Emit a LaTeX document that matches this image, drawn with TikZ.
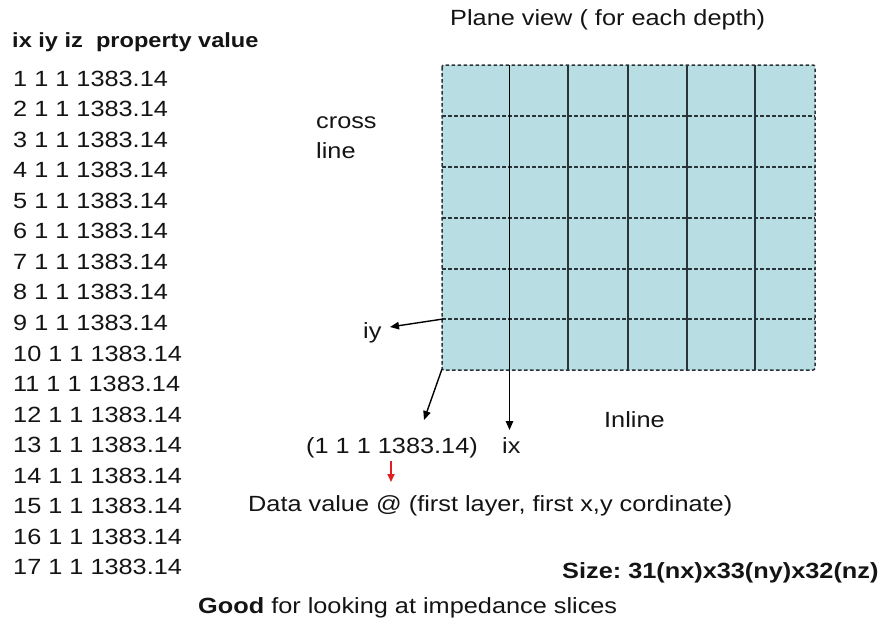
\documentclass[tikz,border=0pt]{standalone}
\usepackage{fontspec}
\setmainfont[FakeStretch=1.15]{Liberation Sans}
\usetikzlibrary{arrows.meta}
\definecolor{gridfill}{RGB}{184,222,227}
\definecolor{gridline}{RGB}{40,52,58}
\definecolor{txtcol}{RGB}{20,20,20}
\definecolor{redarrow}{RGB}{225,30,35}
\tikzset{
  txt/.style={inner sep=0pt, anchor=base west, text=txtcol, font=\fontsize{22}{26}\selectfont},
  boldtxt/.style={txt, font=\fontsize{22}{26}\selectfont\bfseries},
  hdrtxt/.style={txt, font=\fontsize{20.5}{24}\selectfont\bfseries},
  dashln/.style={draw=gridline, line width=1.5pt, dash pattern=on 3.6pt off 2.4pt},
  solidln/.style={draw=gridline, line width=1.5pt},
  arr/.style={draw=black, line width=1.4pt, -{Triangle[length=9pt,width=7.5pt]}},
  redarr/.style={draw=redarrow, line width=1.8pt, -{Triangle[length=8pt,width=7pt]}}
}
\frenchspacing
\begin{document}
\begin{tikzpicture}[x=1pt,y=-1pt]
\useasboundingbox (0,0) rectangle (884,629);
% header and list
\node[hdrtxt] (hdr) at (12,47) {ix iy iz\ \ property value};
\foreach \i in {1,...,17}{
  \node[txt] (r\i) at (13,{86+30.56*(\i-1)}) {\i\ 1 1 1383.14};
}
% title
\node[txt] (title) at (450,25) {Plane view ( for each depth)};
% grid
\fill[gridfill, rounded corners=2pt] (442,65) rectangle (815,370);
\foreach \y in {116,167,218,269,319}{
  \draw[dashln] (442,\y) -- (815,\y);
}
\foreach \x in {568,628,687,755}{
  \draw[solidln] (\x,65) -- (\x,370);
}
\draw[dashln, rounded corners=2pt] (442,65) rectangle (815,370);
% labels
\node[txt] (cross) at (316,128) {cross};
\node[txt] (line) at (316,158) {line};
\node[txt] (inline) at (604,427) {Inline};
\node[txt] (iy) at (363,338) {iy};
\node[txt] (data) at (306,453) {(1 1 1 1383.14)};
\node[txt] (ix) at (502,453) {ix};
\node[txt] (dv) at (248,511) {Data value @ (first layer, first x,y cordinate)};
\node[boldtxt] (size) at (562,578) {Size: 31(nx)x33(ny)x32(nz)};
\node[txt] (good) at (198,613) {\textbf{Good} for looking at impedance slices};
% arrows
\coordinate (ixtop) at (509.5,65);
\coordinate (ixend) at (509.5,430);
\draw[arr] (ixtop) -- (ixend);
\coordinate (iystart) at (443,319);
\coordinate (iyend) at (390,327);
\draw[arr] (iystart) -- (iyend);
\coordinate (cstart) at (442,369);
\coordinate (cend) at (424,420);
\draw[arr] (cstart) -- (cend);
\coordinate (rstart) at (391,461);
\coordinate (rend) at (391,482);
\draw[redarr] (rstart) -- (rend);
\end{tikzpicture}
\end{document}
